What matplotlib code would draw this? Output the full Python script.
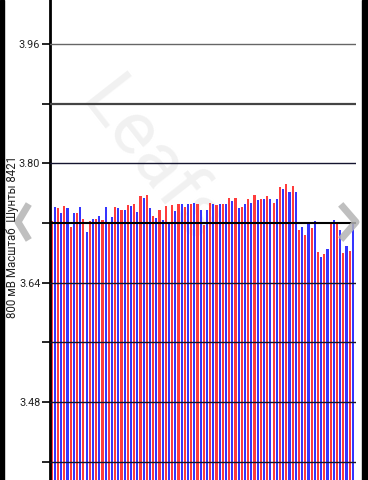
import numpy as np
import matplotlib.pyplot as plt
from matplotlib.lines import Line2D
from matplotlib.patches import Rectangle

plt.rcParams['font.family'] = ['Roboto', 'DejaVu Sans']

# значения шунтов, нечётные ячейки (красные) и чётные (синие)
red_vals = [3.723, 3.740, 3.743, 3.715, 3.734, 3.725, 3.723, 3.726, 3.724, 3.721,
            3.742, 3.737, 3.744, 3.745, 3.756, 3.757, 3.729, 3.738, 3.743, 3.744,
            3.745, 3.741, 3.746, 3.745, 3.717, 3.747, 3.744, 3.746, 3.753, 3.754,
            3.742, 3.752, 3.758, 3.752, 3.756, 3.747, 3.769, 3.772, 3.770, 3.711,
            3.704, 3.713, 3.681, 3.678, 3.720, 3.722, 3.680, 3.682]
blue_vals = [3.742, 3.734, 3.740, 3.734, 3.742, 3.708, 3.726, 3.730, 3.741, 3.728,
             3.740, 3.737, 3.743, 3.735, 3.754, 3.740, 3.727, 3.724, 3.721, 3.736,
             3.745, 3.746, 3.747, 3.737, 3.738, 3.745, 3.745, 3.745, 3.749, 3.740,
             3.746, 3.747, 3.751, 3.752, 3.752, 3.752, 3.765, 3.761, 3.761, 3.715,
             3.720, 3.723, 3.674, 3.685, 3.724, 3.711, 3.689, 3.720]
grid_levels = [3.40, 3.48, 3.56, 3.64, 3.72, 3.80, 3.88, 3.96]
tick_labels = ['', '3.48', '', '3.64', '', '3.80', '', '3.96']
ref_level = 3.72
ylabel = '800 мВ Масштаб  Шунты 8421'

fig = plt.figure(figsize=(3.68, 4.8), dpi=100)
ax = fig.add_axes([50 / 368, 0, 306 / 368, 1])

# водяной знак под столбцами
ax.text(0.33, 0.66, 'Leafs', transform=ax.transAxes, rotation=-52, fontsize=54,
        ha='center', va='center', color='#f1f1f1', zorder=0)

base = 3.0
xr = np.arange(len(red_vals)) * 2
xb = xr + 1
ax.bar(xr, np.array(red_vals) - base, bottom=base, width=0.68, color='#ff3c3c', zorder=2)
ax.bar(xb, np.array(blue_vals) - base, bottom=base, width=0.68, color='#3535ff', zorder=2)

for lv in grid_levels:
    if lv == 3.88:
        ax.axhline(lv, color='#444444', lw=1.6, zorder=3)
    elif lv == 3.96:
        ax.axhline(lv, color='#666666', lw=1, zorder=3)
    elif lv == ref_level:
        ax.axhline(lv, color='black', lw=1.5, zorder=3)
    else:
        ax.axhline(lv, color='#151530', lw=1, zorder=3)

ax.set_xlim(-0.54, 96.0)
ax.set_ylim(3.3756, 4.019)
ax.set_yticks(grid_levels)
ax.set_yticklabels(tick_labels, fontsize=7.8, color='#222222')
ax.tick_params(axis='y', length=6, width=1.2, color='black', pad=1)
ax.set_xticks([])
for s in ['top', 'right', 'bottom']:
    ax.spines[s].set_visible(False)
ax.spines['left'].set_linewidth(2)
ax.spines['left'].set_color('black')
ax.set_facecolor('white')

fig.text(12.5 / 368, 1 - 237 / 480, ylabel, rotation=90, fontsize=8.3,
         ha='center', va='center', color='#222222')

# стрелки по краям
fig.add_artist(Line2D([27 / 368, 18 / 368, 27 / 368],
                      [1 - 207 / 480, 1 - 222 / 480, 1 - 237 / 480],
                      transform=fig.transFigure, color='#b4b4b4', lw=5, alpha=0.85))
fig.add_artist(Line2D([343 / 368, 356 / 368, 343 / 368],
                      [1 - 207 / 480, 1 - 222 / 480, 1 - 237 / 480],
                      transform=fig.transFigure, color='#b4b4b4', lw=5, alpha=0.85))

# чёрные края экрана
fig.add_artist(Rectangle((0, 0), 4 / 368, 1, transform=fig.transFigure, color='black'))
fig.add_artist(Rectangle((362 / 368, 0), 6 / 368, 1, transform=fig.transFigure, color='black'))

fig.savefig('out.png', dpi=100)
